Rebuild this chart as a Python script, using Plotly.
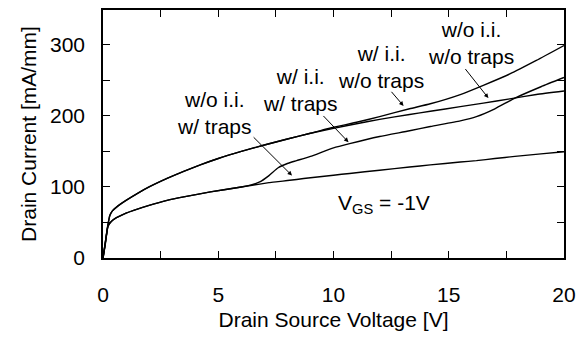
import plotly.graph_objects as go

# Drain I-V curves at V_GS = -1 V, with and without impact ionisation (i.i.) and traps
vds_no_traps = [0, 0.1, 0.2, 0.3, 0.4, 0.6, 1.0, 1.5, 2.0, 2.78, 3.5, 4.22, 5.0, 6.0, 7.0, 8.0, 9.0,
                10.0, 11.0, 12.0, 13.3, 14.2, 15.5, 16.5, 17.65, 18.8, 20.0]
id_no_ii_no_traps = [0, 22, 44, 60, 66, 72, 81, 91, 100, 112, 122, 131, 140, 150, 159, 167.5, 175.5,
                     182.5, 189, 195, 202, 206.5, 213, 218, 224, 230, 235]
id_ii_no_traps = [0, 22, 44, 60, 66, 72, 81, 91, 100, 112, 122, 131, 140, 150, 159, 167.5, 175.5,
                  184, 191, 199, 210, 217, 230, 243, 259, 278, 299]

vds_traps = [0, 0.1, 0.22, 0.35, 0.5, 1.0, 1.33, 2.0, 2.78, 3.5, 4.66, 6.0, 6.4, 6.8, 7.2, 7.6,
             8.0, 8.4, 9.0, 10.0, 10.7, 12.0, 13.3, 14.2, 15.5, 16.2, 17.0, 17.87, 19.0, 20.0]
id_no_ii_traps = [0, 20, 45, 51, 55, 63, 67, 74, 81, 86, 93, 100, 102, 104, 106, 107.5,
                  109, 110.5, 113, 116.5, 119, 123.5, 128, 131, 135, 137, 140, 143, 146.5, 149.5]
id_ii_traps = [0, 20, 45, 51, 55, 63, 67, 74, 81, 86, 93, 100, 102.5, 107, 116, 127,
               133, 137, 143, 155, 161, 171, 179, 185, 193, 199, 210, 225, 241, 254]

x_ticks = [0, 2.5, 5, 7.5, 10, 12.5, 15, 17.5, 20]
x_tick_text = ["0", "", "5", "", "10", "", "15", "", "20"]
y_ticks = [0, 50, 100, 150, 200, 250, 300]
y_tick_text = ["0", "", "100", "", "200", "", "300"]

# label text, text centre (x, y), arrow tail (x, y), arrow head (x, y)
labels = [
    ("w/o i.i.<br>w/ traps", (4.84, 204), (6.47, 172), (8.20, 116)),
    ("w/ i.i.<br>w/ traps", (8.56, 236), (9.50, 202), (10.65, 163)),
    ("w/ i.i.<br>w/o traps", (12.07, 269), (12.46, 236), (13.04, 214)),
    ("w/o i.i.<br>w/o traps", (15.97, 303), (15.67, 268), (16.72, 225)),
]

FONT = "Liberation Sans, Arial, sans-serif"
FS = 21
line_style = dict(color="black", width=1.4, shape="spline", smoothing=0.5)

fig = go.Figure()
for xs, ys in [(vds_no_traps, id_no_ii_no_traps), (vds_no_traps, id_ii_no_traps),
               (vds_traps, id_no_ii_traps), (vds_traps, id_ii_traps)]:
    fig.add_trace(go.Scatter(x=xs, y=ys, mode="lines", line=line_style,
                             showlegend=False, hoverinfo="skip"))

annotations = []
for text, (tx, ty), (ax, ay), (hx, hy) in labels:
    annotations.append(dict(x=tx, y=ty, xref="x", yref="y", text=text, showarrow=False,
                            font=dict(size=FS, color="black", family=FONT), align="center"))
    annotations.append(dict(x=hx, y=hy, ax=ax, ay=ay, xref="x", yref="y", axref="x", ayref="y",
                            text="", showarrow=True, arrowhead=2, arrowsize=0.9,
                            arrowwidth=1, arrowcolor="black"))
annotations.append(dict(x=12.2, y=76, xref="x", yref="y", text="V<sub>GS</sub> = -1V",
                        showarrow=False, font=dict(size=FS, color="black", family=FONT)))

axis_common = dict(showline=True, linecolor="black", linewidth=1.5, mirror="ticks",
                   ticks="inside", ticklen=7, tickwidth=1, tickcolor="black",
                   showgrid=False, zeroline=False,
                   tickfont=dict(size=FS, color="black", family=FONT))

fig.update_layout(
    width=587, height=339,
    margin=dict(l=103, r=23, t=8, b=81),
    paper_bgcolor="white", plot_bgcolor="white",
    font=dict(family=FONT, color="black", size=FS),
    xaxis=dict(range=[0, 20], tickmode="array", tickvals=x_ticks, ticktext=x_tick_text,
               ticklabelstandoff=17,
               title=dict(text="Drain Source Voltage [V]", standoff=7,
                          font=dict(size=FS, color="black", family=FONT)),
               **axis_common),
    yaxis=dict(range=[0, 349], tickmode="array", tickvals=y_ticks, ticktext=y_tick_text,
               ticklabelstandoff=12,
               title=dict(text="Drain Current [mA/mm]", standoff=8,
                          font=dict(size=FS, color="black", family=FONT)),
               **axis_common),
    annotations=annotations,
)

fig.write_html("out.html")
